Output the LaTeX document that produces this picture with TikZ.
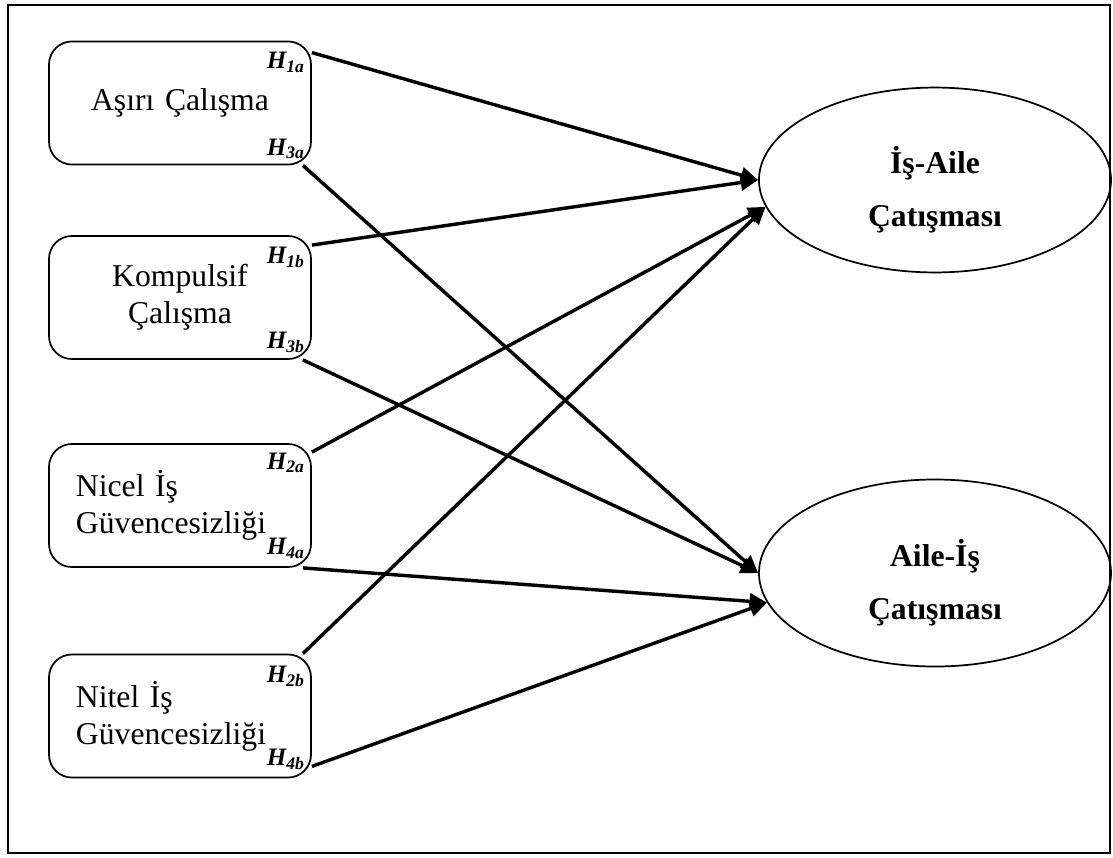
\documentclass[tikz,border=0pt]{standalone}
\usepackage{fontspec}
\setmainfont{Liberation Serif}
\usetikzlibrary{calc,shapes.geometric,arrows.meta}
\tikzset{
	kutu/.style={draw, line width=0.65pt, rounded corners=8.7pt, minimum height=46.6pt, inner xsep=10.2pt, text width=78.8pt, font=\fontsize{12}{14}\selectfont},
	elips/.style={draw, ellipse, line width=0.65pt, minimum width=133.3pt, minimum height=70pt, inner sep=0pt},
	etext/.style={inner sep=0pt, align=center, font=\fontsize{12}{20}\selectfont\bfseries},
	hlab/.style={inner sep=0pt, anchor=base east, font=\fontsize{9.5}{11}\selectfont\bfseries\itshape},
	ok/.style={line width=1.3pt, -{Triangle[length=6.6pt,width=6pt]}}
}

\begin{document}
\begin{tikzpicture}[x=0.3786pt,y=-0.3786pt]
		%%%%% START %%%%%
		\useasboundingbox (0,0) rectangle (1113,857);
		\draw[line width=1pt] (8,5) rectangle (1110,853);
		
		\node[kutu, align=center] (b1) at (180,103) {Aşırı Çalışma};
		\node[kutu, align=center] (b2) at (180,297.5) {Kompulsif\\Çalışma};
		\node[kutu, align=left] (b3) at (180,505.5) {Nicel İş\\Güvencesizliği};
		\node[kutu, align=left] (b4) at (180,716) {Nitel İş\\Güvencesizliği};
		
		\node[elips] (e1) at (935,180) {};
		\node[etext] (t1) at ($(e1.center)+(0,10)$) {İş-Aile\\Çatışması};
		\node[elips, minimum height=70.8pt] (e2) at (935,573) {};
		\node[etext] (t2) at ($(e2.center)+(0,10)$) {Aile-İş\\Çatışması};
		
		\node[hlab] (h1a) at ($(b1.north east)+(-6,28)$) {H\textsubscript{1a}};
		\node[hlab] (h3a) at ($(b1.south east)+(-6,-10)$) {H\textsubscript{3a}};
		\node[hlab] (h1b) at ($(b2.north east)+(-6,28)$) {H\textsubscript{1b}};
		\node[hlab] (h3b) at ($(b2.south east)+(-6,-11)$) {H\textsubscript{3b}};
		\node[hlab] (h2a) at ($(b3.north east)+(-6,26)$) {H\textsubscript{2a}};
		\node[hlab] (h4a) at ($(b3.south east)+(-6,-13)$) {H\textsubscript{4a}};
		\node[hlab] (h2b) at ($(b4.north east)+(-6,29)$) {H\textsubscript{2b}};
		\node[hlab] (h4b) at ($(b4.south east)+(-6,-13)$) {H\textsubscript{4b}};
		
		\draw[ok] ($(b1.north east)+(0,12)$) -- (e1.west);
		\draw[ok] ($(b2.north east)+(0,10)$) -- (e1.west);
		\draw[ok] ($(b3.north east)+(0,9)$) -- (e1.189);
		\draw[ok] ($(b4.north east)+(-9,0)$) -- (e1.189);
		
		\draw[ok] ($(b1.south east)+(-9,0)$) -- (e2.west);
		\draw[ok] ($(b2.south east)+(-9,0)$) -- (e2.west);
		\draw[ok] ($(b3.south east)+(-9,0)$) -- (e2.190);
		\draw[ok] ($(b4.south east)+(0,-12)$) -- (e2.190);
		%%%%% END %%%%%
\end{tikzpicture}
\end{document}
